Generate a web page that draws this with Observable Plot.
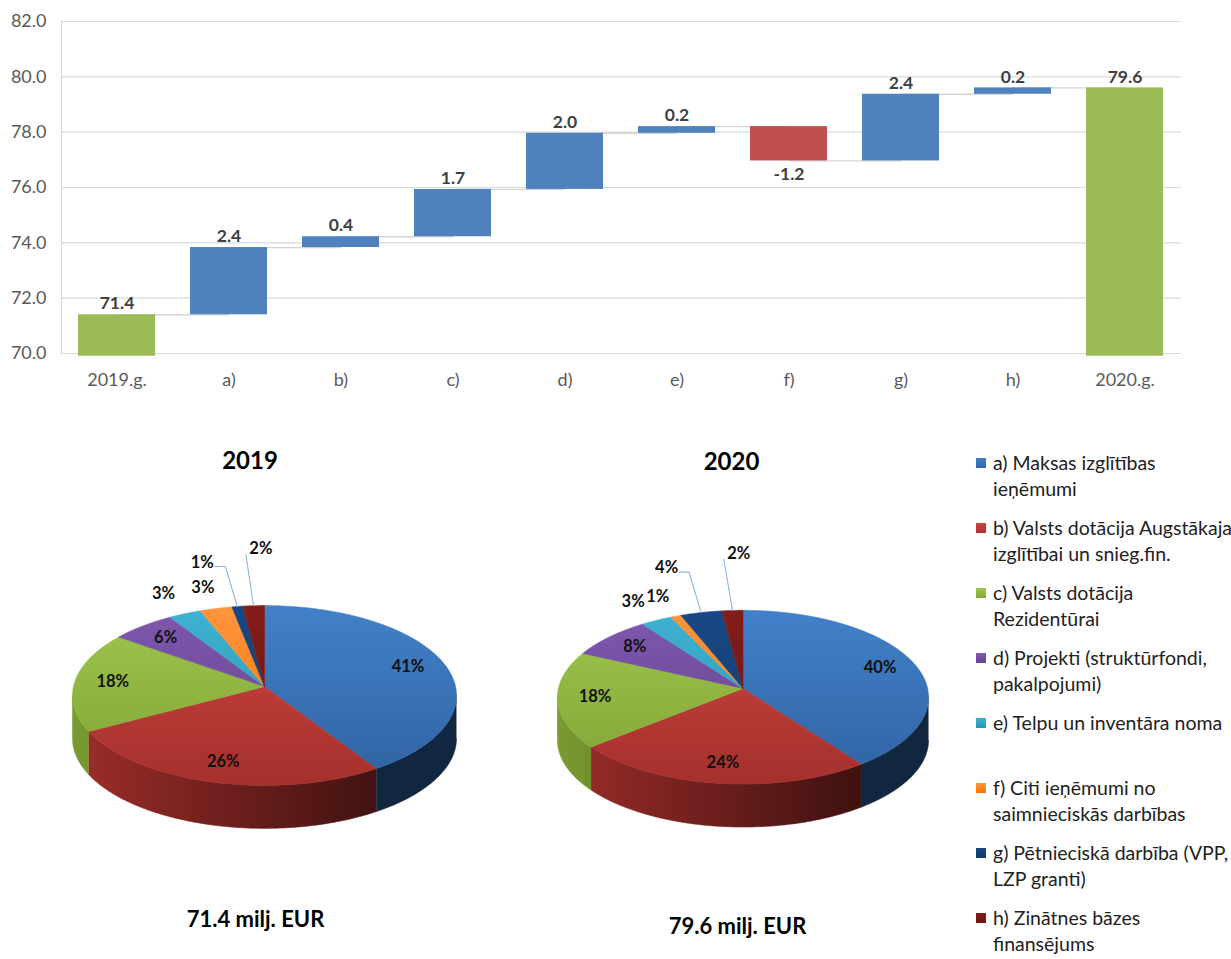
<!DOCTYPE html>
<html><head><meta charset="utf-8">
<script src="https://cdn.jsdelivr.net/npm/d3@7"></script>
<script src="https://cdn.jsdelivr.net/npm/@observablehq/plot@0.6"></script>
<style>
body{margin:0;background:#fff;overflow:hidden;font-family:Lato,"Open Sans",sans-serif}
#root{position:relative;width:1231px;height:959px;overflow:hidden;background:#fff}
.abs{position:absolute}
.ttl{position:absolute;transform:translate(-50%,-50%);font-weight:bold;line-height:1;white-space:nowrap;color:#000}
.leg{position:absolute;left:993px;font-size:19.5px;line-height:26px;color:#222;white-space:nowrap}
.sw{position:absolute;left:976px;width:10px;height:10px}
</style></head><body><div id="root"></div>
<script>
// ---------- data ----------
const categories = ["2019.g.", "a)", "b)", "c)", "d)", "e)", "f)", "g)", "h)", "2020.g."];
const startTotal = 71.4;
const endTotal = 79.6;
const deltas = [2.43, 0.39, 1.71, 2.03, 0.24, -1.24, 2.41, 0.23];
const yTicks = [70, 72, 74, 76, 78, 80, 82];

const sliceKeys = ["a", "b", "c", "d", "e", "f", "g", "h"];
const share2019 = [41, 26, 18, 6, 3, 3, 1, 2];
const share2020 = [40, 24, 18, 8, 3, 1, 4, 2];
const pieTitles = ["2019", "2020"];
const pieTotals = ["71.4 milj. EUR", "79.6 milj. EUR"];
const legendLines = [
  ["a) Maksas izglītības", "ieņēmumi"],
  ["b) Valsts dotācija Augstākajai", "izglītībai un snieg.fin."],
  ["c) Valsts dotācija", "Rezidentūrai"],
  ["d) Projekti (struktūrfondi,", "pakalpojumi)"],
  ["e) Telpu un inventāra noma", ""],
  ["f) Citi ieņēmumi no", "saimnieciskās darbības"],
  ["g) Pētnieciskā darbība (VPP,", "LZP granti)"],
  ["h) Zinātnes bāzes", "finansējums"]
];

// ---------- styles / layout ----------
const barColors = {total: "#9BBB59", up: "#4F81BD", down: "#C0504D"};
const sliceColors = {a: "#4F81BD", b: "#C0504D", c: "#9BBB59", d: "#8064A2", e: "#4BACC6", f: "#F79646", g: "#1F497D", h: "#7B2422"};
const PERSP = 0.1;
const pieLayout = {
  "2019": {left: 0, top: 430, width: 480, height: 440, cx: 264, cy: 256, rx: 191, ry: 89, depth: 43,
           far: {g: {r: 1.64, dx: -20}, h: {r: 1.84, dx: 15}}, title: [250, 460], total: [255.5, 918.5]},
  "2020": {left: 480, top: 430, width: 480, height: 440, cx: 262.5, cy: 258, rx: 184.6, ry: 86, depth: 43,
           far: {g: {r: 1.68, dx: -10}, h: {r: 1.87, dx: 14}}, title: [731.5, 461], total: [737.5, 925.5]}
};

const root = document.getElementById("root");

// ---------- waterfall ----------
const axisFloor = yTicks[0] - 0.1;
const rows = [{cat: categories[0], y1: axisFloor, y2: startTotal, v: startTotal, kind: "total"}];
let cum = startTotal;
deltas.forEach((d, i) => {
  rows.push({cat: categories[i + 1], y1: cum, y2: cum + d, v: d, kind: d >= 0 ? "up" : "down"});
  cum += d;
});
rows.push({cat: categories[categories.length - 1], y1: axisFloor, y2: endTotal, v: endTotal, kind: "total"});
const connectors = rows.slice(0, -1).map((r, i) => ({from: r.cat, to: rows[i + 1].cat, level: r.y2}));

const waterfall = Plot.plot({
  width: 1231, height: 400,
  marginLeft: 61, marginRight: 50, marginTop: 21, marginBottom: 47,
  style: {fontFamily: "Lato, sans-serif", fontSize: "18px", background: "transparent", overflow: "visible"},
  x: {domain: categories, paddingInner: 0.31, paddingOuter: 0.155, label: null, axis: null},
  y: {domain: [yTicks[0], yTicks[yTicks.length - 1]], label: null, axis: null},
  color: {type: "identity"},
  marks: [
    Plot.gridY(yTicks, {stroke: "#d9d9d9", strokeOpacity: 1, strokeWidth: 1.2}),
    Plot.frame({anchor: "left", stroke: "#d9d9d9", strokeWidth: 1.2}),
    Plot.link(connectors, {x1: "from", x2: "to", y1: "level", y2: "level", stroke: "#d4d4d4", strokeWidth: 1.3}),
    Plot.rectY(rows, {x: "cat", y1: "y1", y2: "y2", fill: d => barColors[d.kind]}),
    Plot.text(rows.filter(r => r.v >= 0), {x: "cat", y: "y2", text: d => d.v.toFixed(1), dy: -11,
      fontWeight: "bold", fontSize: 17.5, fill: "#404040"}),
    Plot.text(rows.filter(r => r.v < 0), {x: "cat", y: "y2", text: d => d.v.toFixed(1), dy: 13,
      fontWeight: "bold", fontSize: 17.5, fill: "#404040"}),
    Plot.axisY(yTicks, {tickSize: 0, tickPadding: 15, tickFormat: d => d.toFixed(1), fontSize: 18, color: "#595959"}),
    Plot.axisX({tickSize: 0, tickPadding: 20, fontSize: 18, color: "#595959"})
  ]
});
waterfall.classList.add("abs");
waterfall.style.left = "0px";
waterfall.style.top = "0px";
root.appendChild(waterfall);

// ---------- 3D pies ----------
function proj(r, aDeg, drop = 0) {
  const a = aDeg * Math.PI / 180;
  const u = r * Math.sin(a), v = r * Math.cos(a);
  const s = 1 / (1 + PERSP * v);
  return {x: u * s, y: v * s - drop};
}
function hslMod(c, ds, lf) {
  const h = d3.hsl(c);
  h.s = Math.min(1, h.s + ds);
  h.l = h.l * lf;
  return h.formatHex();
}
function pieSVG(shares, year) {
  const L = pieLayout[year];
  const total = d3.sum(shares);
  let acc = 0;
  const slices = shares.map((s, i) => {
    const a1 = acc / total * 360; acc += s;
    return {key: sliceKeys[i], share: s, pct: Math.round(s / total * 100), a1, a2: acc / total * 360};
  });
  const dv = L.depth / L.ry;
  const sil = Math.acos(-PERSP) * 180 / Math.PI;
  const arc = (lo, hi, r, drop) => {
    const n = Math.max(2, Math.ceil((hi - lo) * 2));
    return d3.range(n + 1).map(k => proj(r, lo + (hi - lo) * k / n, drop));
  };
  const marks = [];
  for (const s of slices) {
    const lo = Math.max(s.a1, sil), hi = Math.min(s.a2, 360 - sil);
    if (hi > lo) {
      const pts = [...arc(lo, hi, 1, 0), ...arc(lo, hi, 1, dv).reverse()];
      const u = `url(#w${year}${s.key})`;
      marks.push(Plot.line(pts, {x: "x", y: "y", fill: u, stroke: u, strokeWidth: 0.6}));
    }
  }
  for (const s of slices) {
    const pts = [{x: 0, y: 0}, ...arc(s.a1, s.a2, 1, 0), {x: 0, y: 0}];
    const u = `url(#t${year}${s.key})`;
    marks.push(Plot.line(pts, {x: "x", y: "y", fill: u, stroke: u, strokeWidth: 0.6}));
  }
  const toPx = p => ({X: p.x * L.rx, Y: -p.y * L.ry});
  const toU = (X, Y) => ({x: X / L.rx, y: -Y / L.ry});
  const labels = slices.map(s => {
    const mid = (s.a1 + s.a2) / 2;
    const far = L.far[s.key];
    const r = s.pct >= 5 ? 0.8 : far ? far.r : 1.3;
    const p = proj(r, mid);
    return {text: s.pct + "%", x: p.x + (far ? far.dx / L.rx : 0), y: p.y, far, mid};
  });
  for (const lb of labels.filter(l => l.far)) {
    const rim = toPx(proj(1, lb.mid));
    const lab = toPx(lb);
    let pts;
    if (lab.X < rim.X - 10) {
      const sy = lab.Y + 4;
      pts = [toU(lab.X + 12.5, sy), toU(rim.X - 0.3 * (rim.Y - sy), sy), toU(rim.X, rim.Y)];
    } else {
      pts = [toU(lab.X - 15, lab.Y + 6), toU(rim.X, rim.Y)];
    }
    marks.push(Plot.line(pts, {x: "x", y: "y", stroke: "#8EB4E3", strokeWidth: 1.1}));
  }
  marks.push(Plot.text(labels, {x: "x", y: "y", text: "text", fontWeight: "bold", fontSize: 16.5, fill: "#111"}));

  const svg = Plot.plot({
    width: L.width, height: L.height, margin: 0,
    style: {fontFamily: "Lato, sans-serif", background: "transparent", overflow: "visible"},
    x: {domain: [-1, 1], range: [L.cx - L.rx, L.cx + L.rx], axis: null},
    y: {domain: [-1, 1], range: [L.cy + L.ry, L.cy - L.ry], axis: null},
    marks
  });
  const defs = d3.select(svg).insert("defs", ":first-child");
  const yTop = L.cy - L.ry / (1 + PERSP), yBot = L.cy + L.ry / (1 - PERSP);
  for (const s of slices) {
    const c = sliceColors[s.key];
    const tg = defs.append("linearGradient").attr("id", `t${year}${s.key}`).attr("gradientUnits", "userSpaceOnUse")
      .attr("x1", 0).attr("x2", 0).attr("y1", yTop).attr("y2", yBot);
    tg.append("stop").attr("offset", 0).attr("stop-color", hslMod(c, 0.1, 1.0));
    tg.append("stop").attr("offset", 1).attr("stop-color", hslMod(c, 0.1, 0.78));
    const wg = defs.append("linearGradient").attr("id", `w${year}${s.key}`).attr("gradientUnits", "userSpaceOnUse")
      .attr("x1", L.cx - L.rx).attr("x2", L.cx + L.rx).attr("y1", 0).attr("y2", 0);
    wg.append("stop").attr("offset", 0).attr("stop-color", hslMod(c, 0.1, 0.74));
    wg.append("stop").attr("offset", 0.8).attr("stop-color", hslMod(c, 0.12, 0.3));
    wg.append("stop").attr("offset", 1).attr("stop-color", hslMod(c, 0.12, 0.3));
  }
  svg.classList.add("abs");
  svg.style.left = L.left + "px";
  svg.style.top = L.top + "px";
  root.appendChild(svg);

  const t = document.createElement("div");
  t.className = "ttl"; t.style.fontSize = "24px";
  t.style.left = L.title[0] + "px"; t.style.top = L.title[1] + "px";
  t.textContent = pieTitles[year === "2019" ? 0 : 1];
  root.appendChild(t);
  const tt = document.createElement("div");
  tt.className = "ttl"; tt.style.fontSize = "22px";
  tt.style.left = L.total[0] + "px"; tt.style.top = L.total[1] + "px";
  tt.textContent = pieTotals[year === "2019" ? 0 : 1];
  root.appendChild(tt);
}
pieSVG(share2019, "2019");
pieSVG(share2020, "2020");

// ---------- legend ----------
legendLines.forEach((lines, i) => {
  const c = sliceColors[sliceKeys[i]];
  const sw = document.createElement("div");
  sw.className = "sw";
  sw.style.top = (458 + 65 * i) + "px";
  sw.style.background = `linear-gradient(${hslMod(c, 0.1, 1.0)}, ${hslMod(c, 0.1, 0.8)})`;
  root.appendChild(sw);
  const tx = document.createElement("div");
  tx.className = "leg";
  tx.style.top = (450 + 65 * i) + "px";
  tx.innerHTML = lines.filter(l => l).join("<br>");
  root.appendChild(tx);
});
</script></body></html>
